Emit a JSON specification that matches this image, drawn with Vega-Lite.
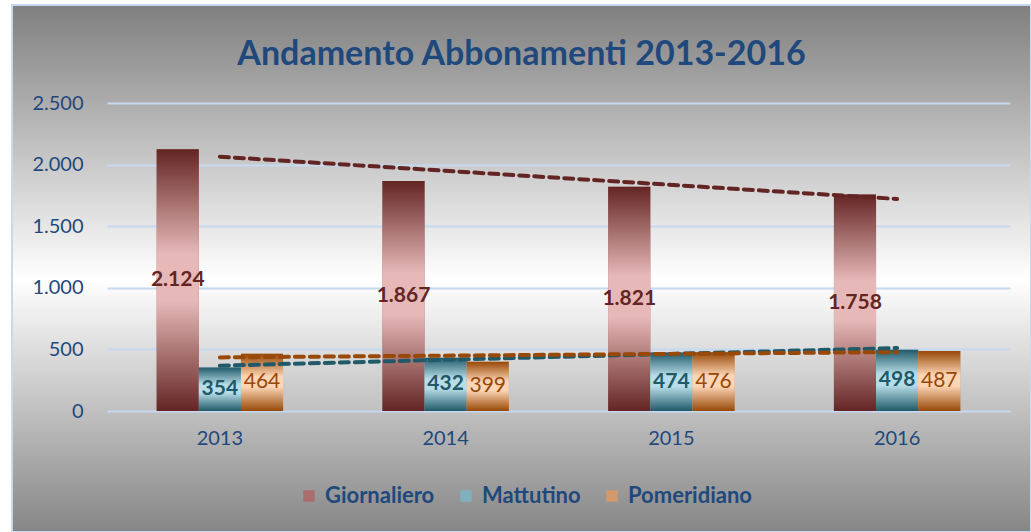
{
  "$schema": "https://vega.github.io/schema/vega-lite/v6.json",
  "autosize": {"type": "none"},
  "width": 1019,
  "height": 527,
  "padding": {"left": 12, "top": 5, "right": 0, "bottom": 0},
  "background": "#ffffff",
  "view": {
    "fill": {"gradient": "linear", "x1": 0, "y1": 0, "x2": 0, "y2": 1,
      "stops": [{"offset": 0, "color": "#7f7f7f"}, {"offset": 0.52, "color": "#ffffff"}, {"offset": 1, "color": "#868686"}]},
    "stroke": "#c6d9f1",
    "strokeWidth": 2
  },
  "config": {
    "locale": {"number": {"decimal": ",", "thousands": ".", "grouping": [3], "currency": ["€", ""]}},
    "font": "Lato"
  },
  "title": {
    "text": "Andamento Abbonamenti 2013-2016",
    "font": "Lato",
    "fontSize": 34,
    "fontWeight": "bold",
    "color": "#1f497d",
    "anchor": "middle",
    "offset": -67
  },
  "datasets": {
    "abbonamenti": [
      {"anno": "2013", "serie": "Giornaliero", "valore": 2124},
      {"anno": "2013", "serie": "Mattutino", "valore": 354},
      {"anno": "2013", "serie": "Pomeridiano", "valore": 464},
      {"anno": "2014", "serie": "Giornaliero", "valore": 1867},
      {"anno": "2014", "serie": "Mattutino", "valore": 432},
      {"anno": "2014", "serie": "Pomeridiano", "valore": 399},
      {"anno": "2015", "serie": "Giornaliero", "valore": 1821},
      {"anno": "2015", "serie": "Mattutino", "valore": 474},
      {"anno": "2015", "serie": "Pomeridiano", "valore": 476},
      {"anno": "2016", "serie": "Giornaliero", "valore": 1758},
      {"anno": "2016", "serie": "Mattutino", "valore": 498},
      {"anno": "2016", "serie": "Pomeridiano", "valore": 487}
    ],
    "tendenza": [
      {"anno": "2013", "serie": "Giornaliero", "trend": 2064},
      {"anno": "2016", "serie": "Giornaliero", "trend": 1721},
      {"anno": "2013", "serie": "Mattutino", "trend": 368},
      {"anno": "2016", "serie": "Mattutino", "trend": 511},
      {"anno": "2013", "serie": "Pomeridiano", "trend": 435},
      {"anno": "2016", "serie": "Pomeridiano", "trend": 478}
    ]
  },
  "resolve": {"scale": {"y": "independent"}},
  "layer": [
    {
      "data": {"name": "abbonamenti"},
      "mark": {"type": "bar"},
      "encoding": {
        "x": {
          "field": "anno", "type": "nominal",
          "scale": {"range": [95, 998], "paddingInner": 0.44, "paddingOuter": 0.22},
          "axis": {"title": null, "offset": -121, "domain": false, "ticks": false, "tickSize": 0, "labelPadding": 17,
            "labelAngle": 0, "labelFont": "Lato", "labelFontSize": 20, "labelColor": "#1f497d", "grid": false}
        },
        "xOffset": {"field": "serie", "type": "nominal", "scale": {"domain": ["Giornaliero", "Mattutino", "Pomeridiano"]}},
        "y": {
          "field": "valore", "type": "quantitative",
          "scale": {"domain": [0, 2500], "range": [406, 98], "nice": false},
          "axis": {"title": null, "values": [0, 500, 1000, 1500, 2000, 2500], "format": ",d", "offset": -95,
            "domain": false, "ticks": false, "tickSize": 0, "labelPadding": 24, "labelFont": "Lato", "labelFontSize": 20,
            "labelColor": "#1f497d", "grid": true, "gridColor": "#c6d9f1", "gridWidth": 2}
        },
        "color": {
          "field": "serie", "type": "nominal",
          "scale": {"domain": ["Giornaliero", "Mattutino", "Pomeridiano"], "range": ["#a86e6d", "#7eb0bd", "#d49a6b"]},
          "legend": {
            "title": null, "orient": "none", "direction": "horizontal", "legendX": 286, "legendY": 480,
            "labelFont": "Lato", "labelFontSize": 22, "labelFontWeight": "bold", "labelColor": "#1f497d",
            "symbolType": "square", "symbolSize": 130, "symbolStrokeWidth": 0, "columnPadding": 20, "labelOffset": 5
          }
        }
      }
    },
    {
      "data": {"name": "abbonamenti"},
      "transform": [{"filter": "datum.serie === 'Giornaliero'"}],
      "mark": {"type": "bar", "fill": {"gradient": "linear", "x1": 0, "y1": 0, "x2": 0, "y2": 1,
        "stops": [{"offset": 0, "color": "#632523"}, {"offset": 0.4, "color": "#e6b9b8"}, {"offset": 0.58, "color": "#e6b9b8"}, {"offset": 1, "color": "#632523"}]}},
      "encoding": {
        "x": {"field": "anno", "type": "nominal"},
        "xOffset": {"field": "serie", "type": "nominal"},
        "y": {"field": "valore", "type": "quantitative", "scale": {"domain": [0, 2500], "range": [406, 98], "nice": false}, "axis": null}
      }
    },
    {
      "data": {"name": "abbonamenti"},
      "transform": [{"filter": "datum.serie === 'Mattutino'"}],
      "mark": {"type": "bar", "fill": {"gradient": "linear", "x1": 0, "y1": 0, "x2": 0, "y2": 1,
        "stops": [{"offset": 0, "color": "#215968"}, {"offset": 0.4, "color": "#b7dee8"}, {"offset": 0.58, "color": "#b7dee8"}, {"offset": 1, "color": "#215968"}]}},
      "encoding": {
        "x": {"field": "anno", "type": "nominal"},
        "xOffset": {"field": "serie", "type": "nominal"},
        "y": {"field": "valore", "type": "quantitative", "scale": {"domain": [0, 2500], "range": [406, 98], "nice": false}, "axis": null}
      }
    },
    {
      "data": {"name": "abbonamenti"},
      "transform": [{"filter": "datum.serie === 'Pomeridiano'"}],
      "mark": {"type": "bar", "fill": {"gradient": "linear", "x1": 0, "y1": 0, "x2": 0, "y2": 1,
        "stops": [{"offset": 0, "color": "#984807"}, {"offset": 0.4, "color": "#fcd5b5"}, {"offset": 0.58, "color": "#fcd5b5"}, {"offset": 1, "color": "#984807"}]}},
      "encoding": {
        "x": {"field": "anno", "type": "nominal"},
        "xOffset": {"field": "serie", "type": "nominal"},
        "y": {"field": "valore", "type": "quantitative", "scale": {"domain": [0, 2500], "range": [406, 98], "nice": false}, "axis": null}
      }
    },
    {
      "data": {"name": "tendenza"},
      "mark": {"type": "line", "strokeDash": [9, 6], "strokeWidth": 4, "strokeCap": "round"},
      "encoding": {
        "x": {"field": "anno", "type": "nominal"},
        "y": {"field": "trend", "type": "quantitative", "scale": {"domain": [0, 2500], "range": [406, 98], "nice": false}, "axis": null},
        "stroke": {"field": "serie", "type": "nominal",
          "scale": {"domain": ["Giornaliero", "Mattutino", "Pomeridiano"], "range": ["#632523", "#215968", "#984807"]},
          "legend": null}
      }
    },
    {
      "data": {"name": "abbonamenti"},
      "transform": [{"filter": "datum.serie !== 'Pomeridiano'"}],
      "mark": {"type": "text", "font": "Lato", "fontSize": 21, "fontWeight": "bold", "baseline": "middle", "align": "center"},
      "encoding": {
        "x": {"field": "anno", "type": "nominal"},
        "xOffset": {"field": "serie", "type": "nominal"},
        "y": {"field": "valore", "type": "quantitative", "scale": {"domain": [0, 5000], "range": [406, 98], "nice": false}, "axis": null},
        "text": {"field": "valore", "type": "quantitative", "format": ",d"},
        "fill": {"field": "serie", "type": "nominal",
          "scale": {"domain": ["Giornaliero", "Mattutino"], "range": ["#632523", "#215968"]}, "legend": null}
      }
    },
    {
      "data": {"name": "abbonamenti"},
      "transform": [{"filter": "datum.serie === 'Pomeridiano'"}],
      "mark": {"type": "text", "font": "Lato", "fontSize": 21, "fontWeight": "normal", "baseline": "middle", "align": "center", "color": "#984807"},
      "encoding": {
        "x": {"field": "anno", "type": "nominal"},
        "xOffset": {"field": "serie", "type": "nominal"},
        "y": {"field": "valore", "type": "quantitative", "scale": {"domain": [0, 5000], "range": [406, 98], "nice": false}, "axis": null},
        "text": {"field": "valore", "type": "quantitative", "format": ",d"}
      }
    }
  ]
}
